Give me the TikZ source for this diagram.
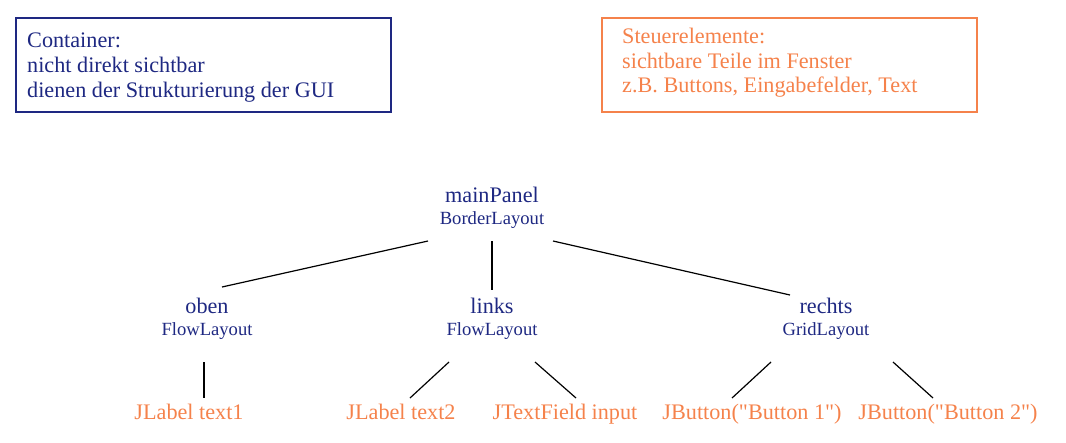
\documentclass[tikz,border=0pt]{standalone}
\usepackage{fontspec}
\setmainfont{Liberation Serif}
\newfontfamily\rawserif{Liberation Serif}[Ligatures=TeXOff]
\definecolor{cblue}{RGB}{30,40,130}
\definecolor{corange}{RGB}{245,130,75}
\begin{document}
\begin{tikzpicture}[x=1pt,y=-1pt,
  big/.style={inner sep=0pt,anchor=base,font=\fontsize{22.2}{25}\selectfont},
  small/.style={inner sep=0pt,anchor=base,font=\fontsize{18.6}{21}\selectfont},
  cont/.style={text=cblue},
  ctrl/.style={text=corange},
  boxline/.style={line width=1.3pt},
  edge/.style={line width=1.2pt,black}]
\useasboundingbox (0,0) rectangle (1066,442);
% legend boxes
\draw[boxline,cblue] (16,18) rectangle (391,112);
\node[big,cont,anchor=base west] (c1) at (27,47) {Container:};
\node[big,cont,anchor=base west] (c2) at (27,72) {nicht direkt sichtbar};
\node[big,cont,anchor=base west] (c3) at (27,97) {dienen der Strukturierung der GUI};
\draw[boxline,corange] (602,18) rectangle (977,112);
\node[big,ctrl,anchor=base west] (s1) at (622,43) {Steuerelemente:};
\node[big,ctrl,anchor=base west] (s2) at (622,68) {sichtbare Teile im Fenster};
\node[big,ctrl,anchor=base west] (s3) at (622,92) {z.B. Buttons, Eingabefelder, Text};
% tree nodes
\node[big,cont] (main) at (492,202) {mainPanel};
\node[small,cont] (mainT) at (492,224) {BorderLayout};
\node[big,cont] (oben) at (207,313) {oben};
\node[small,cont] (obenT) at (207,335) {FlowLayout};
\node[big,cont] (links) at (492,313) {links};
\node[small,cont] (linksT) at (492,335) {FlowLayout};
\node[big,cont] (rechts) at (826,313) {rechts};
\node[small,cont] (rechtsT) at (826,335) {GridLayout};
\node[big,ctrl] (t1) at (189,419) {JLabel text1};
\node[big,ctrl] (t2) at (401,419) {JLabel text2};
\node[big,ctrl] (inp) at (565,419) {JTextField input};
\node[big,ctrl] (b1) at (752,419) {\rawserif JButton("Button 1")};
\node[big,ctrl] (b2) at (948,419) {\rawserif JButton("Button 2")};
% connector end points
\coordinate (mo) at (428,241); \coordinate (om) at (222,287);
\coordinate (ml) at (492,241); \coordinate (lm) at (492,290);
\coordinate (mr) at (553,241); \coordinate (rm) at (790,295);
\coordinate (ot) at (204,362); \coordinate (to) at (204,398);
\coordinate (lt) at (449,362); \coordinate (tl) at (410,398);
\coordinate (li) at (535,362); \coordinate (il) at (576,398);
\coordinate (rb1) at (771,362); \coordinate (b1r) at (732,398);
\coordinate (rb2) at (893,362); \coordinate (b2r) at (933,398);
\draw[edge] (mo) -- (om);
\draw[edge] (ml) -- (lm);
\draw[edge] (mr) -- (rm);
\draw[edge] (ot) -- (to);
\draw[edge] (lt) -- (tl);
\draw[edge] (li) -- (il);
\draw[edge] (rb1) -- (b1r);
\draw[edge] (rb2) -- (b2r);
\end{tikzpicture}
\end{document}
